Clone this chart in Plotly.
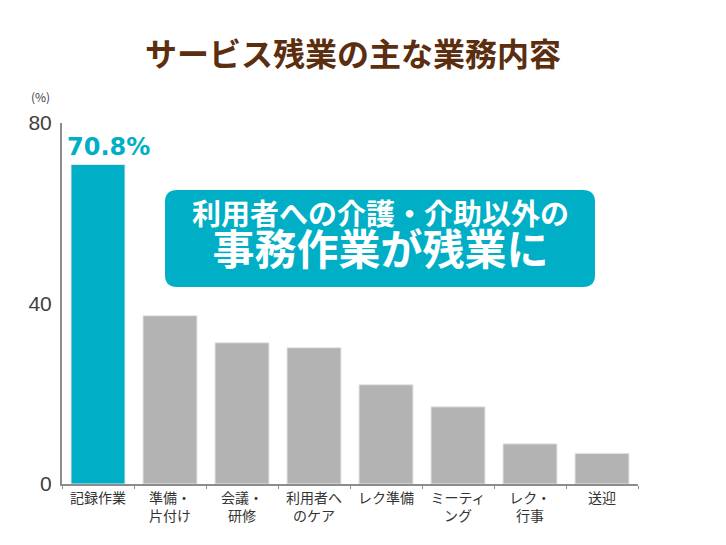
import plotly.graph_objects as go

# data
categories = ["記録作業", "準備・<br>片付け", "会議・<br>研修", "利用者へ<br>のケア", "レク準備",
              "ミーティ<br>ング", "レク・<br>行事", "送迎"]
values = [70.8, 37.3, 31.3, 30.2, 22.0, 17.1, 8.9, 6.8]
y_ticks = [0, 40, 80]
callout = ["利用者への介護・介助以外の", "事務作業が残業に"]

TEAL = "#00afc6"
GRAY = "#b3b3b3"
BROWN = "#5a2e0e"
FONT = "Noto Sans CJK JP"

colors = [TEAL] + [GRAY] * (len(values) - 1)

fig = go.Figure(go.Bar(
    x=categories, y=values,
    marker=dict(color=colors, line=dict(color="#e6e6e6", width=1)),
    width=0.75,
))

# page body has an 8px margin, so the plot area is shifted by that amount
fig.update_layout(
    width=726, height=545,
    margin=dict(l=54, r=96, t=115, b=69),
    paper_bgcolor="white", plot_bgcolor="white",
    font=dict(family=FONT, color="#333333"),
    showlegend=False,
    title=dict(text="<b>サービス残業の主な業務内容</b>", x=(353 - 8) / 726, xanchor="center",
               y=1 - (55 - 8) / 545, yanchor="middle", font=dict(size=32, color=BROWN, family=FONT)),
)

fig.update_xaxes(
    showline=True, linecolor="#8c8c8c", linewidth=2,
    ticks="outside", tickson="boundaries", ticklen=3, tickcolor="#8c8c8c",
    tickfont=dict(size=14, color="#333333"),
    range=[-0.5, len(categories) - 0.5],
)
fig.update_yaxes(
    range=[0, 80], tickvals=y_ticks, showgrid=False, zeroline=False,
    showline=True, linecolor="#8c8c8c", linewidth=2,
    tickfont=dict(size=21, color="#404040", family="Liberation Sans"),
    ticks="", ticklabelstandoff=4,
)

# value label on first bar
fig.add_annotation(x=categories[0], y=values[0], text=f"<b>{values[0]}%</b>",
                   showarrow=False, yanchor="bottom", yshift=2, xshift=10,
                   font=dict(size=24, color=TEAL, family="DejaVu Sans"))

# unit label
fig.add_annotation(x=0.0, xref="paper", y=1.0, yref="paper", text="(%)",
                   showarrow=False, xanchor="right", yanchor="bottom", xshift=-10, yshift=16,
                   font=dict(size=12, color="#404040"))


# rounded callout box (positions in pixels of the reference)
def px_x(v):
    return (v - 62) / 576


def px_y(v):
    return (484 - v) / 361


w, h, r = 430, 97, 12
path = (f"M {-w/2 + r},{-h/2} L {w/2 - r},{-h/2} Q {w/2},{-h/2} {w/2},{-h/2 + r} "
        f"L {w/2},{h/2 - r} Q {w/2},{h/2} {w/2 - r},{h/2} L {-w/2 + r},{h/2} "
        f"Q {-w/2},{h/2} {-w/2},{h/2 - r} L {-w/2},{-h/2 + r} Q {-w/2},{-h/2} {-w/2 + r},{-h/2} Z")
fig.add_shape(type="path", path=path, xref="paper", yref="paper",
              xsizemode="pixel", ysizemode="pixel",
              xanchor=px_x(380), yanchor=px_y(238.5),
              fillcolor=TEAL, line=dict(width=0), layer="above")
fig.add_annotation(x=px_x(380), xref="paper", y=px_y(234), yref="paper",
                   xanchor="center", yanchor="middle", align="center",
                   text=(f"<span style='font-size:29px'><b>{callout[0]}</b></span><br>"
                         f"<span style='font-size:42px'><b>{callout[1]}</b></span>"),
                   showarrow=False,
                   font=dict(size=31, color="white", family=FONT))

fig.write_html("out.html")
